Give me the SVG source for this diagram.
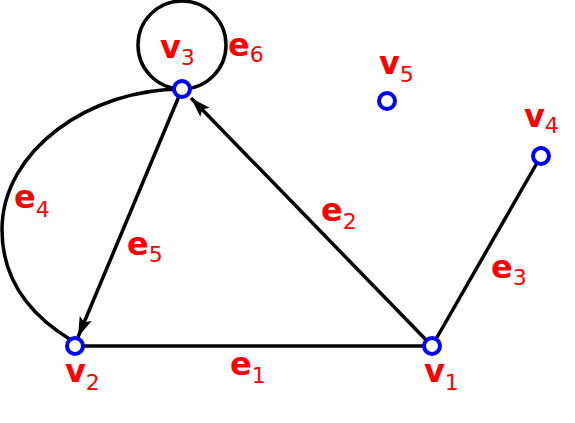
<svg xmlns="http://www.w3.org/2000/svg" width="575" height="423" viewBox="0 0 575 423">
<defs>
<marker id="arr" markerWidth="22" markerHeight="14" refX="20" refY="7" orient="auto" markerUnits="userSpaceOnUse">
<path d="M0,0.5 L20,7 L0,13.5 L4,7 Z" fill="#000"/>
</marker>
<style>
.edge{fill:none;stroke:#000;stroke-width:3.5}
.node{fill:#fff;stroke:#0000ff;stroke-width:4}
.lbl{font-family:"DejaVu Sans",sans-serif;font-weight:bold;font-size:32px;fill:#ff0000}
.sub{font-weight:normal;font-size:22px}
</style>
</defs>
<rect width="575" height="423" fill="#fff"/>
<g id="edges">
<path id="e1" class="edge" d="M75,346 L432,346"/>
<path id="e2" class="edge" d="M432,346 L191,98" marker-end="url(#arr)"/>
<path id="e3" class="edge" d="M432,346 L541,156"/>
<path id="e4" class="edge" d="M182,89 C90,89 2,150 2,230 C2,280 30,315 71,340"/>
<path id="e5" class="edge" d="M182,89 L78,337" marker-end="url(#arr)"/>
<circle id="e6" class="edge" cx="182" cy="45" r="44"/>
</g>
<g id="edge-labels">
<text class="lbl" x="230" y="375">e<tspan class="sub" dy="8">1</tspan></text>
<text class="lbl" x="321" y="221">e<tspan class="sub" dy="8">2</tspan></text>
<text class="lbl" x="491" y="278">e<tspan class="sub" dy="7">3</tspan></text>
<text class="lbl" x="14" y="208">e<tspan class="sub" dy="9">4</tspan></text>
<text class="lbl" x="127" y="255">e<tspan class="sub" dy="7">5</tspan></text>
<text class="lbl" x="228" y="56">e<tspan class="sub" dy="6">6</tspan></text>
</g>
<g id="v1"><circle class="node" cx="432" cy="346" r="8"/><text class="lbl" x="424" y="382">v<tspan class="sub" dy="8">1</tspan></text></g>
<g id="v2"><circle class="node" cx="75" cy="346" r="8"/><text class="lbl" x="65" y="382">v<tspan class="sub" dy="8">2</tspan></text></g>
<g id="v3"><circle class="node" cx="182" cy="89" r="8"/><text class="lbl" x="160" y="58">v<tspan class="sub" dy="7">3</tspan></text></g>
<g id="v4"><circle class="node" cx="541" cy="156" r="8"/><text class="lbl" x="524" y="127">v<tspan class="sub" dy="6">4</tspan></text></g>
<g id="v5"><circle class="node" cx="387" cy="101" r="8"/><text class="lbl" x="379" y="74">v<tspan class="sub" dy="8">5</tspan></text></g>
</svg>
